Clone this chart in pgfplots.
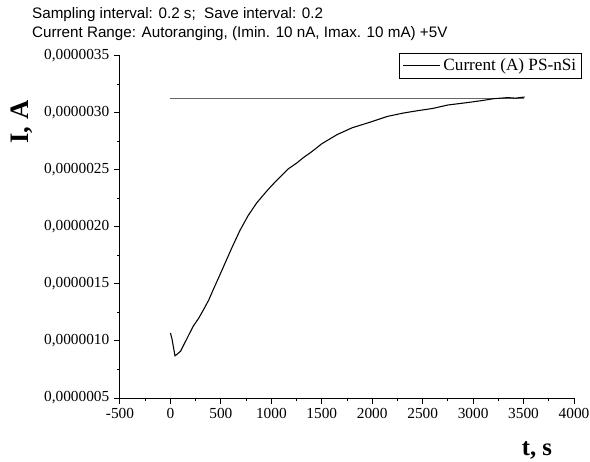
\documentclass[border=0pt]{standalone}
\usepackage{pgfplots}
\pgfplotsset{compat=1.18}
\usepackage{fontspec}
\setmainfont{Liberation Serif}
\newfontfamily\arial{Liberation Sans}

% current vs time, amperes
\begin{document}
\begin{tikzpicture}
\begin{axis}[
    scale only axis, width=340.5pt, height=256.5pt,
    xmin=-500, xmax=4000, ymin=0.5e-6, ymax=3.5e-6,
    axis x line*=bottom, axis y line*=left,
    axis line style={-, line width=0.75pt},
    tick align=outside, minor tick num=1,
    major tick length=4.5pt, minor tick length=2.5pt,
    tick style={line width=0.75pt, black},
    xtick={-500,0,...,4000},
    ytick={0.5e-6,1e-6,1.5e-6,2e-6,2.5e-6,3e-6,3.5e-6},
    yticklabels={{0,0000005},{0,0000010},{0,0000015},{0,0000020},{0,0000025},{0,0000030},{0,0000035}},
    scaled y ticks=false,
    /pgf/number format/assume math mode=true,
    /pgf/number format/set thousands separator={},
    ticklabel style={font=\fontsize{11.5}{13}\selectfont},
    legend style={at={(1.0176,1.0088)}, anchor=north east, draw=black, line width=0.6pt,
        font=\fontsize{12.9}{14}\selectfont, inner sep=2pt},
    legend image code/.code={\draw[#1] (0cm,0cm) -- (0.98cm,0cm);},
    clip=false,
]
\addplot[black!60, line width=0.7pt, forget plot] coordinates {(0,3.123e-6) (3500,3.123e-6)};
\addplot[black, line width=0.8pt] coordinates {
(0,1.07e-6) (15,1.02e-6) (45,0.87e-6) (60,0.88e-6) (100,0.91e-6) (140,0.98e-6)
(180,1.05e-6) (226,1.13e-6) (280,1.20e-6) (325,1.27e-6) (380,1.36e-6) (424,1.45e-6)
(480,1.56e-6) (540,1.68e-6) (610,1.82e-6) (689,1.97e-6) (770,2.10e-6) (854,2.21e-6)
(940,2.30e-6) (1000,2.36e-6) (1100,2.45e-6) (1168,2.51e-6) (1250,2.56e-6) (1320,2.61e-6)
(1400,2.66e-6) (1500,2.73e-6) (1651,2.81e-6) (1800,2.87e-6) (1981,2.92e-6) (2150,2.97e-6)
(2311,3.00e-6) (2450,3.02e-6) (2600,3.04e-6) (2750,3.07e-6) (2932,3.09e-6) (3097,3.11e-6)
(3200,3.125e-6) (3345,3.135e-6) (3420,3.13e-6) (3510,3.14e-6)
};
\addlegendentry{Current (A) PS-nSi}
\node[anchor=south west, inner sep=0pt, align=left, font=\arial\fontsize{11.4}{14.25}\selectfont]
    at (rel axis cs:-0.194,1.0447) {Sampling interval: 0.2 s;\ \ Save interval: 0.2\\Current Range: Autoranging, (Imin. 10 nA, Imax. 10 mA) +5V};
\node[rotate=90, font=\bfseries\fontsize{20}{23}\selectfont] at (rel axis cs:-0.216,0.807) {I, A};
\node[font=\bfseries\fontsize{18.5}{21}\selectfont] at (rel axis cs:0.9185,-0.152) {t, s};
\coordinate (bbsw) at (rel axis cs:-0.2643,-0.1842);
\coordinate (bbne) at (rel axis cs:1.0352,1.1637);
\end{axis}
\pgfresetboundingbox
\useasboundingbox (bbsw) rectangle (bbne);
\end{tikzpicture}
\end{document}
